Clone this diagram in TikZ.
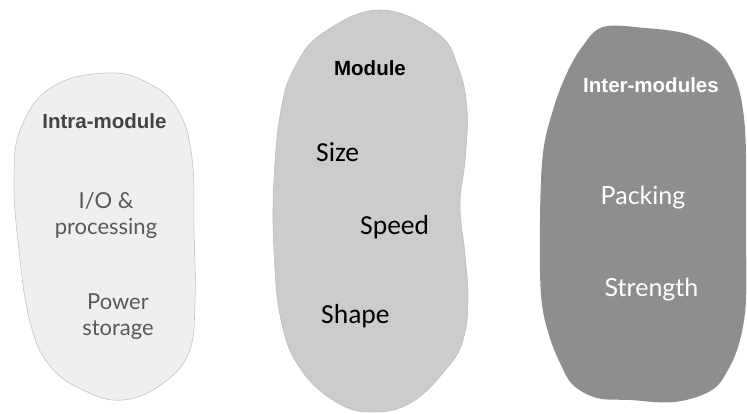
\documentclass[tikz,border=0pt]{standalone}
\usepackage{fontspec}
\setmainfont{Lato}
\newfontfamily\headfont{Liberation Sans}
\newfontfamily\calfont{Carlito}
\usetikzlibrary{positioning}

\definecolor{intrafill}{HTML}{EFEFEF}
\definecolor{intraline}{HTML}{C4C4C4}
\definecolor{modfill}{HTML}{CCCCCC}
\definecolor{interfill}{HTML}{8E8E8E}
\definecolor{headgray}{HTML}{434343}
\definecolor{textgray}{HTML}{595959}

\begin{document}
\begin{tikzpicture}[x=1pt, y=-1pt,
   blob/.style = {line width=0.6pt},
   head/.style = {inner sep=0pt, anchor=base, font=\headfont\bfseries\fontsize{20.5}{24}\selectfont},
   item/.style = {inner sep=0pt, anchor=base, align=center}]
   \useasboundingbox (0,0) rectangle (747,414);

   % intra-module
   \filldraw[blob, fill=intrafill, draw=intraline] plot[smooth cycle, tension=0.7] coordinates {
      (107,73) (148,83) (178,110) (192,158) (194,230) (195,300) (189,352)
      (162,384) (123,400) (85,391) (50,366) (30,322) (19,250) (14,180)
      (21,128) (52,87)};
   \node[head, text=headgray] (intra) at (104.5,129) {Intra-module};
   \node[item, text=textgray, font=\fontsize{22}{26}\selectfont] (io) at (106,235) {I/O \&\\processing};
   \node[item, text=textgray, font=\fontsize{22}{26}\selectfont] (power) at (118,335) {Power\\storage};

   % module
   \filldraw[blob, fill=modfill, draw=modfill!92!black] plot[smooth cycle, tension=0.7] coordinates {
      (380,10) (437,33) (458,67) (467,110) (465,160) (460,205) (465,255)
      (468,300) (463,340) (447,368) (412,402) (373,412) (336,402) (300,368)
      (281,320) (274,250) (274,180) (281,110) (295,67) (323,33)};
   \node[head, text=black] (module) at (370,76) {Module};
   \node[item, anchor=base west, font=\calfont\fontsize{27.5}{32}\selectfont] (size) at (316,162) {Size};
   \node[item, anchor=base west, font=\calfont\fontsize{27.5}{32}\selectfont] (speed) at (360,235) {Speed};
   \node[item, anchor=base west, font=\calfont\fontsize{27.5}{32}\selectfont] (shape) at (321,323) {Shape};

   % inter-modules
   \fill[blob, fill=interfill] plot[smooth cycle, tension=0.6] coordinates {
      (603,27) (645,28) (687,34) (717,50) (735,78) (743,110) (746,153)
      (746,230) (746,300) (740,340) (729,368) (712,390) (675,402) (630,400)
      (597,398) (573,385) (561,365) (549,335) (541,295) (540,220) (543,153)
      (553,110) (566,75) (582,47)};
   \node[head, text=white] (inter) at (651,93) {Inter-modules};
   \node[item, text=white, font=\fontsize{25}{30}\selectfont] (packing) at (643,205) {Packing};
   \node[item, text=white, font=\fontsize{25}{30}\selectfont] (strength) at (651.5,296) {Strength};

\end{tikzpicture}
\end{document}
